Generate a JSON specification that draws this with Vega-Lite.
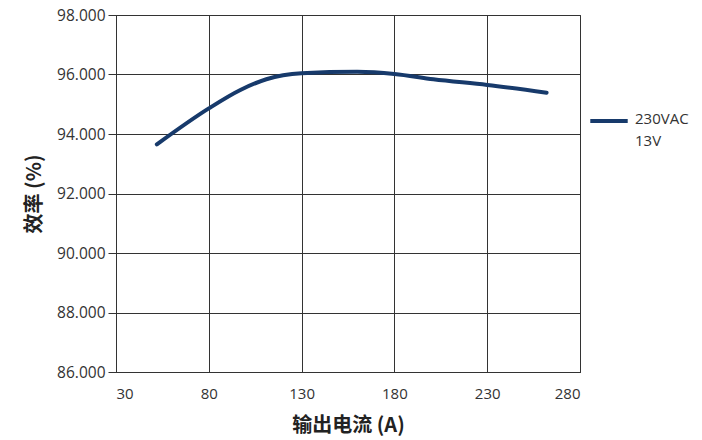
{
  "$schema": "https://vega.github.io/schema/vega-lite/v6.json",
  "width": 464,
  "height": 357,
  "autosize": "none",
  "padding": {"left": 116, "top": 15, "right": 122, "bottom": 68},
  "background": "white",
  "config": {
    "view": {"stroke": "#333", "strokeWidth": 1},
    "font": "Open Sans"
  },
  "data": {
    "values": [
      {"current": 52, "eff": 93.65, "series": "230VAC|13V"},
      {"current": 80, "eff": 94.86, "series": "230VAC|13V"},
      {"current": 97, "eff": 95.48, "series": "230VAC|13V"},
      {"current": 111, "eff": 95.84, "series": "230VAC|13V"},
      {"current": 130, "eff": 96.04, "series": "230VAC|13V"},
      {"current": 160, "eff": 96.09, "series": "230VAC|13V"},
      {"current": 180, "eff": 96.02, "series": "230VAC|13V"},
      {"current": 201, "eff": 95.84, "series": "230VAC|13V"},
      {"current": 230, "eff": 95.65, "series": "230VAC|13V"},
      {"current": 262, "eff": 95.39, "series": "230VAC|13V"}
    ]
  },
  "mark": {"type": "line", "interpolate": "monotone", "strokeWidth": 4, "strokeCap": "round"},
  "encoding": {
    "x": {
      "field": "current", "type": "quantitative",
      "scale": {"domain": [30, 280], "nice": false, "zero": false},
      "axis": {
        "values": [30, 80, 130, 180, 230, 280],
        "title": "输出电流 (A)",
        "titleFont": "Noto Sans CJK SC", "titleFontSize": 20, "titleFontWeight": "bold", "titleColor": "#222",
        "titlePadding": 14,
        "labelFontSize": 15, "labelColor": "#333", "labelPadding": 14,
        "ticks": false, "grid": true, "gridColor": "#333", "gridWidth": 1,
        "domainColor": "#333"
      }
    },
    "y": {
      "field": "eff", "type": "quantitative",
      "scale": {"domain": [86, 98], "nice": false, "zero": false},
      "axis": {
        "values": [86, 88, 90, 92, 94, 96, 98],
        "format": ".3f",
        "title": "效率 (%)",
        "titleFont": "Noto Sans CJK SC", "titleFontSize": 20, "titleFontWeight": "bold", "titleColor": "#222",
        "titlePadding": 12,
        "labelFontSize": 15.5, "labelColor": "#333", "labelPadding": 3,
        "ticks": true, "tickSize": 8, "tickColor": "#333",
        "grid": true, "gridColor": "#333", "gridWidth": 1,
        "domainColor": "#333"
      }
    },
    "color": {
      "field": "series", "type": "nominal",
      "scale": {"range": ["#173a6b"]},
      "legend": {
        "title": null,
        "orient": "none",
        "legendX": 472,
        "legendY": 85,
        "symbolType": "stroke",
        "symbolSize": 1400,
        "symbolStrokeWidth": 4,
        "labelFontSize": 15,
        "labelColor": "#333",
        "labelExpr": "split(datum.label, '|')",
        "labelBaseline": "top",
        "labelOffset": 5,
        "encode": {
          "labels": {"update": {"lineHeight": {"value": 22}, "dy": {"value": -9}}}
        }
      }
    }
  }
}
